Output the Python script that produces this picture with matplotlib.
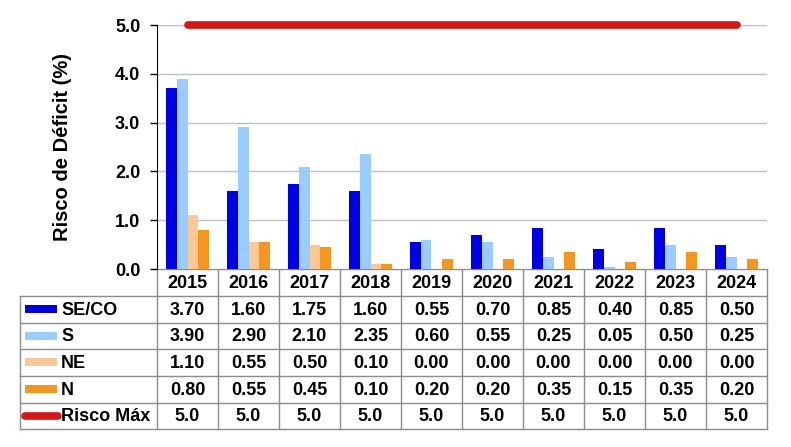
import matplotlib
matplotlib.use("Agg")
import matplotlib.pyplot as plt
from matplotlib.patches import Rectangle

plt.rcParams['font.family'] = ['Liberation Sans', 'DejaVu Sans']

years = ["2015", "2016", "2017", "2018", "2019", "2020", "2021", "2022", "2023", "2024"]
seco = [3.70, 1.60, 1.75, 1.60, 0.55, 0.70, 0.85, 0.40, 0.85, 0.50]
s_vals = [3.90, 2.90, 2.10, 2.35, 0.60, 0.55, 0.25, 0.05, 0.50, 0.25]
ne = [1.10, 0.55, 0.50, 0.10, 0.00, 0.00, 0.00, 0.00, 0.00, 0.00]
n_vals = [0.80, 0.55, 0.45, 0.10, 0.20, 0.20, 0.35, 0.15, 0.35, 0.20]
risco_max = [5.0] * 10

series_names = ["SE/CO", "S", "NE", "N"]
series_vals = [seco, s_vals, ne, n_vals]
series_colors = ["#0000E6", "#99CCFF", "#FAC896", "#F7961E"]
red = "#D91515"

W, H = 791, 447
fig = plt.figure(figsize=(W / 100, H / 100), dpi=100)

# pixel layout
ax_l, ax_r, ax_t, ax_b = 157, 767, 25, 269
ax = fig.add_axes([ax_l / W, 1 - ax_b / H, (ax_r - ax_l) / W, (ax_b - ax_t) / H])

x = list(range(len(years)))
bw = 0.18
offs = [-1.5, -0.5, 0.5, 1.5]
for vals, col, o in zip(series_vals, series_colors, offs):
    ax.bar([xi + o * bw for xi in x], vals, width=bw, color=col, zorder=3)

ax.plot(x, risco_max, color=red, lw=5.5, solid_capstyle='round', zorder=4, clip_on=False)

ax.set_xlim(-0.5, len(years) - 0.5)
ax.set_ylim(0, 5)
ax.set_yticks([0, 1, 2, 3, 4, 5])
ax.set_yticklabels([f"{v:.1f}" for v in [0, 1, 2, 3, 4, 5]], fontsize=13, fontweight='bold')
ax.set_xticks([])
ax.tick_params(axis='y', length=5, pad=7, width=1)
ax.grid(axis='y', color='#BFBFBF', lw=1, zorder=0)
for sp in ['top', 'right', 'bottom']:
    ax.spines[sp].set_visible(False)
ax.spines['left'].set_color('black')

fig.text(62 / W, 1 - 147 / H, "Risco de Déficit (%)", rotation=90, ha='center', va='center',
         fontsize=14.5, fontweight='bold')

# table overlay in pixel coordinates
tax = fig.add_axes([0, 0, 1, 1], zorder=-1)
tax.set_xlim(0, W)
tax.set_ylim(H, 0)
tax.axis('off')

ncol = len(years)
cw = (ax_r - ax_l) / ncol
col_edges = [ax_l + i * cw for i in range(ncol + 1)]
row_edges = [269, 296, 322.7, 349, 375.8, 402.5, 429]
tbl_left = 20
gcol = '#8C8C8C'

tax.plot([ax_l, ax_r], [row_edges[0]] * 2, color=gcol, lw=1)
for ry in row_edges[1:]:
    tax.plot([tbl_left, ax_r], [ry, ry], color=gcol, lw=1)
tax.plot([tbl_left, tbl_left], [row_edges[1], row_edges[-1]], color=gcol, lw=1)
for cx in col_edges:
    tax.plot([cx, cx], [row_edges[0], row_edges[-1]], color=gcol, lw=1)

for i, yr in enumerate(years):
    cx = (col_edges[i] + col_edges[i + 1]) / 2
    tax.text(cx, (row_edges[0] + row_edges[1]) / 2 + 1, yr, ha='center', va='center',
             fontsize=13, fontweight='bold')

row_labels = series_names + ["Risco Máx"]
row_data = series_vals + [risco_max]
for r, (lab, vals) in enumerate(zip(row_labels, row_data)):
    cy = (row_edges[r + 1] + row_edges[r + 2]) / 2
    if r < 4:
        tax.add_patch(Rectangle((25, cy - 4), 32, 8, color=series_colors[r], lw=0))
    else:
        tax.plot([25, 58], [cy, cy], color=red, lw=5.5, solid_capstyle='round')
    tax.text(61, cy + 1, lab, ha='left', va='center', fontsize=13, fontweight='bold')
    for i, v in enumerate(vals):
        cx = (col_edges[i] + col_edges[i + 1]) / 2
        txt = f"{v:.1f}" if r == 4 else f"{v:.2f}"
        tax.text(cx, cy + 1, txt, ha='center', va='center', fontsize=13, fontweight='bold')

fig.savefig("out.png", dpi=100)
